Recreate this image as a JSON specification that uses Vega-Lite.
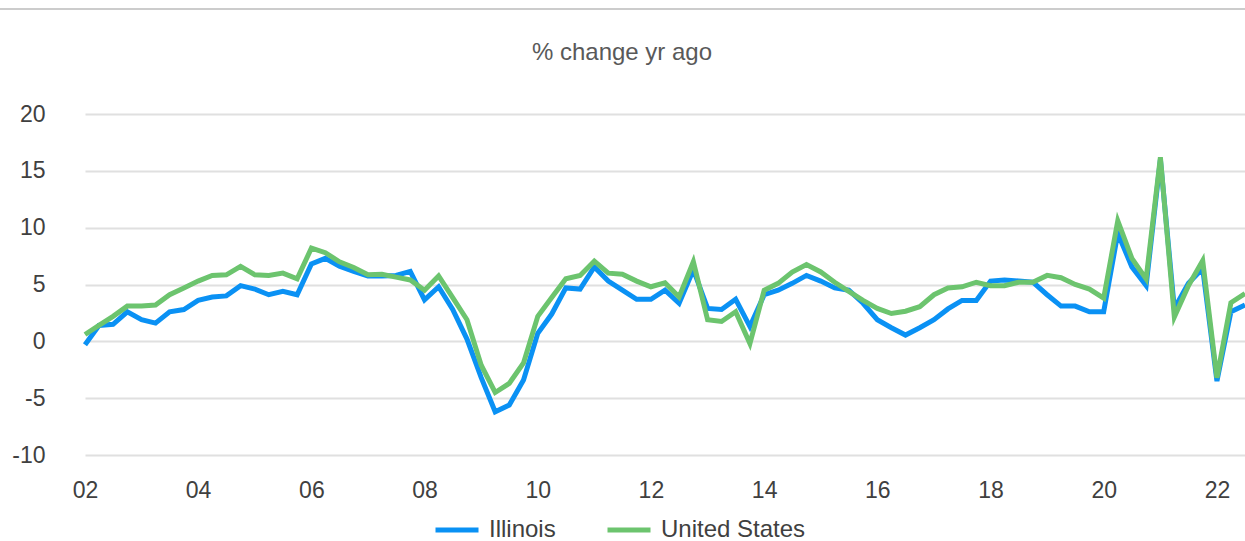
{
  "$schema": "https://vega.github.io/schema/vega-lite/v6.json",
  "autosize": {"type": "none"},
  "padding": {"left": 85, "top": 114, "right": 0, "bottom": 86},
  "width": 1160,
  "height": 341,
  "background": "white",
  "config": {
    "view": {"stroke": null},
    "font": "Liberation Sans",
    "axis": {"labelFont": "Liberation Sans", "labelColor": "#404040", "labelFontSize": 23}
  },
  "title": {
    "text": "% change yr ago",
    "font": "Liberation Sans",
    "fontSize": 24,
    "fontWeight": "normal",
    "color": "#595959",
    "anchor": "middle",
    "dx": -43,
    "offset": -57
  },
  "layer": [
    {
      "data": {
        "values": [
          {"q": "2002-01-01", "Illinois": -0.3, "United States": 0.6},
          {"q": "2002-04-01", "Illinois": 1.4, "United States": 1.4},
          {"q": "2002-07-01", "Illinois": 1.5, "United States": 2.2},
          {"q": "2002-10-01", "Illinois": 2.6, "United States": 3.1},
          {"q": "2003-01-01", "Illinois": 1.9, "United States": 3.1},
          {"q": "2003-04-01", "Illinois": 1.6, "United States": 3.2},
          {"q": "2003-07-01", "Illinois": 2.6, "United States": 4.1},
          {"q": "2003-10-01", "Illinois": 2.8, "United States": 4.7},
          {"q": "2004-01-01", "Illinois": 3.6, "United States": 5.3},
          {"q": "2004-04-01", "Illinois": 3.9, "United States": 5.8},
          {"q": "2004-07-01", "Illinois": 4.0, "United States": 5.85},
          {"q": "2004-10-01", "Illinois": 4.9, "United States": 6.6},
          {"q": "2005-01-01", "Illinois": 4.6, "United States": 5.85},
          {"q": "2005-04-01", "Illinois": 4.1, "United States": 5.8},
          {"q": "2005-07-01", "Illinois": 4.4, "United States": 6.0},
          {"q": "2005-10-01", "Illinois": 4.1, "United States": 5.5},
          {"q": "2006-01-01", "Illinois": 6.8, "United States": 8.2},
          {"q": "2006-04-01", "Illinois": 7.3, "United States": 7.8},
          {"q": "2006-07-01", "Illinois": 6.6, "United States": 7.0},
          {"q": "2006-10-01", "Illinois": 6.15, "United States": 6.5},
          {"q": "2007-01-01", "Illinois": 5.75, "United States": 5.85},
          {"q": "2007-04-01", "Illinois": 5.75, "United States": 5.9},
          {"q": "2007-07-01", "Illinois": 5.8, "United States": 5.65},
          {"q": "2007-10-01", "Illinois": 6.15, "United States": 5.4},
          {"q": "2008-01-01", "Illinois": 3.65, "United States": 4.5},
          {"q": "2008-04-01", "Illinois": 4.8, "United States": 5.75},
          {"q": "2008-07-01", "Illinois": 2.8, "United States": 3.85},
          {"q": "2008-10-01", "Illinois": 0.2, "United States": 1.9},
          {"q": "2009-01-01", "Illinois": -3.2, "United States": -2.1},
          {"q": "2009-04-01", "Illinois": -6.2, "United States": -4.5},
          {"q": "2009-07-01", "Illinois": -5.6, "United States": -3.7},
          {"q": "2009-10-01", "Illinois": -3.4, "United States": -1.9},
          {"q": "2010-01-01", "Illinois": 0.7, "United States": 2.2},
          {"q": "2010-04-01", "Illinois": 2.4, "United States": 3.85},
          {"q": "2010-07-01", "Illinois": 4.7, "United States": 5.5},
          {"q": "2010-10-01", "Illinois": 4.6, "United States": 5.8},
          {"q": "2011-01-01", "Illinois": 6.55, "United States": 7.05},
          {"q": "2011-04-01", "Illinois": 5.3, "United States": 6.0},
          {"q": "2011-07-01", "Illinois": 4.5, "United States": 5.9},
          {"q": "2011-10-01", "Illinois": 3.7, "United States": 5.3},
          {"q": "2012-01-01", "Illinois": 3.7, "United States": 4.8},
          {"q": "2012-04-01", "Illinois": 4.5, "United States": 5.15},
          {"q": "2012-07-01", "Illinois": 3.35, "United States": 3.9},
          {"q": "2012-10-01", "Illinois": 6.3, "United States": 7.0},
          {"q": "2013-01-01", "Illinois": 2.9, "United States": 1.9},
          {"q": "2013-04-01", "Illinois": 2.8, "United States": 1.75},
          {"q": "2013-07-01", "Illinois": 3.7, "United States": 2.6},
          {"q": "2013-10-01", "Illinois": 1.3, "United States": -0.2},
          {"q": "2014-01-01", "Illinois": 4.1, "United States": 4.5},
          {"q": "2014-04-01", "Illinois": 4.5, "United States": 5.1},
          {"q": "2014-07-01", "Illinois": 5.1, "United States": 6.1},
          {"q": "2014-10-01", "Illinois": 5.8, "United States": 6.75},
          {"q": "2015-01-01", "Illinois": 5.3, "United States": 6.1},
          {"q": "2015-04-01", "Illinois": 4.7, "United States": 5.2},
          {"q": "2015-07-01", "Illinois": 4.5, "United States": 4.4},
          {"q": "2015-10-01", "Illinois": 3.35, "United States": 3.6},
          {"q": "2016-01-01", "Illinois": 1.9, "United States": 2.9},
          {"q": "2016-04-01", "Illinois": 1.2, "United States": 2.45},
          {"q": "2016-07-01", "Illinois": 0.55, "United States": 2.65},
          {"q": "2016-10-01", "Illinois": 1.2, "United States": 3.05},
          {"q": "2017-01-01", "Illinois": 1.9, "United States": 4.1},
          {"q": "2017-04-01", "Illinois": 2.85, "United States": 4.7},
          {"q": "2017-07-01", "Illinois": 3.6, "United States": 4.8},
          {"q": "2017-10-01", "Illinois": 3.6, "United States": 5.2},
          {"q": "2018-01-01", "Illinois": 5.3, "United States": 4.9},
          {"q": "2018-04-01", "Illinois": 5.4, "United States": 4.9},
          {"q": "2018-07-01", "Illinois": 5.3, "United States": 5.2},
          {"q": "2018-10-01", "Illinois": 5.2, "United States": 5.2},
          {"q": "2019-01-01", "Illinois": 4.1, "United States": 5.8},
          {"q": "2019-04-01", "Illinois": 3.1, "United States": 5.6},
          {"q": "2019-07-01", "Illinois": 3.1, "United States": 5.0},
          {"q": "2019-10-01", "Illinois": 2.6, "United States": 4.6},
          {"q": "2020-01-01", "Illinois": 2.6, "United States": 3.8},
          {"q": "2020-04-01", "Illinois": 9.5, "United States": 10.6},
          {"q": "2020-07-01", "Illinois": 6.55, "United States": 7.3},
          {"q": "2020-10-01", "Illinois": 4.9, "United States": 5.5},
          {"q": "2021-01-01", "Illinois": 16.0, "United States": 16.2},
          {"q": "2021-04-01", "Illinois": 2.9, "United States": 2.15},
          {"q": "2021-07-01", "Illinois": 5.1, "United States": 4.9},
          {"q": "2021-10-01", "Illinois": 6.4, "United States": 7.1},
          {"q": "2022-01-01", "Illinois": -3.5, "United States": -3.2},
          {"q": "2022-04-01", "Illinois": 2.6, "United States": 3.4},
          {"q": "2022-07-01", "Illinois": 3.2, "United States": 4.2}
        ]
      },
      "transform": [{"fold": ["Illinois", "United States"], "as": ["series", "value"]}],
      "mark": {"type": "line", "strokeWidth": 5, "strokeJoin": "miter", "strokeCap": "butt"},
      "encoding": {
        "x": {
          "field": "q",
          "type": "temporal",
          "scale": {
            "type": "utc",
            "domain": [{"year": 2002, "month": 1, "date": 1, "utc": true}, {"year": 2022, "month": 7, "date": 1, "utc": true}]
          },
          "axis": {
            "title": null,
            "grid": false,
            "domain": false,
            "ticks": false,
            "labelPadding": 24,
            "format": "%y",
            "labelFlush": false,
            "values": [
              {"year": 2002, "utc": true}, {"year": 2004, "utc": true}, {"year": 2006, "utc": true},
              {"year": 2008, "utc": true}, {"year": 2010, "utc": true}, {"year": 2012, "utc": true},
              {"year": 2014, "utc": true}, {"year": 2016, "utc": true}, {"year": 2018, "utc": true},
              {"year": 2020, "utc": true}, {"year": 2022, "utc": true}
            ]
          }
        },
        "y": {
          "field": "value",
          "type": "quantitative",
          "scale": {"domain": [-10, 20], "nice": false, "zero": false},
          "axis": {
            "title": null,
            "values": [-10, -5, 0, 5, 10, 15, 20],
            "labelExpr": "datum.value + ''",
            "grid": true,
            "gridColor": "#e0e0e0",
            "gridWidth": 2,
            "domain": false,
            "ticks": false,
            "labelPadding": 40
          }
        },
        "color": {
          "field": "series",
          "type": "nominal",
          "scale": {"domain": ["Illinois", "United States"], "range": ["#0a91f4", "#6cc46e"]},
          "legend": {
            "title": null,
            "orient": "none",
            "direction": "horizontal",
            "legendX": 348,
            "legendY": 392,
            "symbolType": "stroke",
            "symbolSize": 1849,
            "symbolStrokeWidth": 5,
            "labelFont": "Liberation Sans",
            "labelFontSize": 24,
            "labelColor": "#404040",
            "labelOffset": 8,
            "columnPadding": 41
          }
        }
      }
    },
    {
      "data": {"values": [{}]},
      "mark": {"type": "rule", "color": "#cccccc", "strokeWidth": 2},
      "encoding": {
        "x": {"datum": {"year": 2000, "month": 7, "date": 1, "utc": true}, "type": "temporal"},
        "x2": {"datum": {"year": 2022, "month": 7, "date": 1, "utc": true}},
        "y": {"datum": 29.24, "type": "quantitative"}
      }
    }
  ]
}
